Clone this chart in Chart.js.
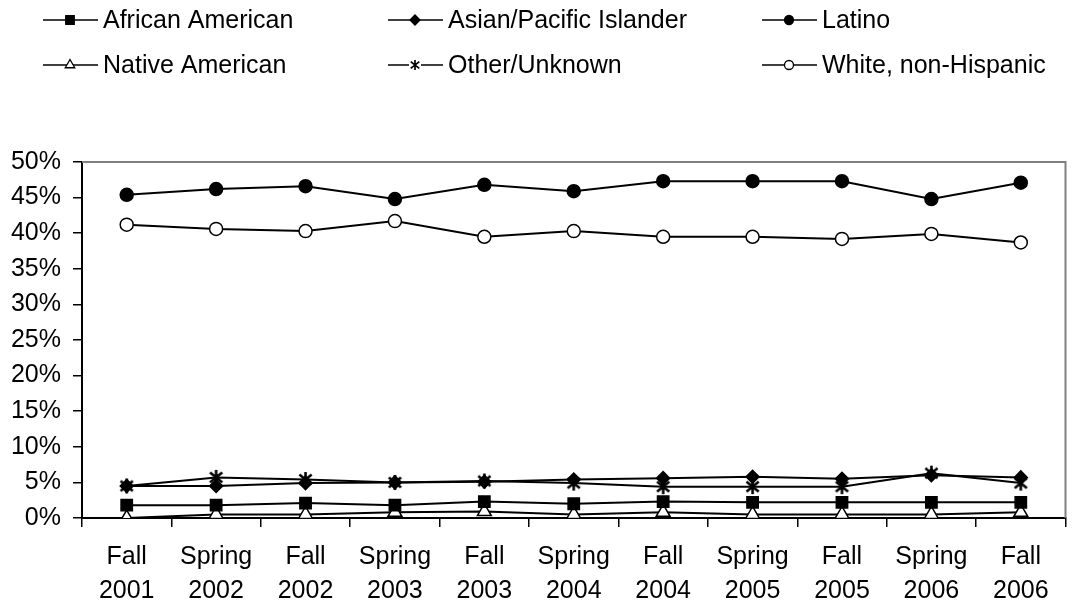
<!DOCTYPE html>
<html>
<head>
<meta charset="utf-8">
<script src="https://cdn.jsdelivr.net/npm/chart.js@4/dist/chart.umd.min.js"></script>
<style>
  html, body { margin: 0; padding: 0; background: #fff; }
  #wrap { width: 1075px; height: 603px; position: relative; }
</style>
</head>
<body>
<div id="wrap"><canvas id="c"></canvas></div>
<script>
// 학기별 인종 구성 비율 (%)
const terms = [
  ["Fall", "2001"], ["Spring", "2002"], ["Fall", "2002"], ["Spring", "2003"],
  ["Fall", "2003"], ["Spring", "2004"], ["Fall", "2004"], ["Spring", "2005"],
  ["Fall", "2005"], ["Spring", "2006"], ["Fall", "2006"],
];
const african  = [1.8, 1.8, 2.1, 1.8, 2.3, 2.0, 2.3, 2.2, 2.2, 2.2, 2.2];
const asian    = [4.5, 4.5, 4.9, 5.0, 5.1, 5.4, 5.6, 5.8, 5.5, 6.0, 5.7];
const latino   = [45.4, 46.2, 46.6, 44.8, 46.8, 45.9, 47.3, 47.3, 47.3, 44.8, 47.1];
const native   = [0.0, 0.5, 0.5, 0.8, 0.9, 0.5, 0.8, 0.5, 0.5, 0.5, 0.8];
const other    = [4.5, 5.7, 5.4, 5.0, 5.2, 4.9, 4.4, 4.4, 4.4, 6.3, 4.9];
const white    = [41.2, 40.6, 40.3, 41.7, 39.5, 40.3, 39.5, 39.5, 39.2, 39.9, 38.7];
const yTicks   = [0, 5, 10, 15, 20, 25, 30, 35, 40, 45, 50];

const FONT = "Liberation Sans, Arial, sans-serif";

// 별표 마커 (X + 세로선)
function makeStar(n, w) {
  const cv = document.createElement("canvas");
  cv.width = n; cv.height = n;
  const g = cv.getContext("2d");
  g.strokeStyle = "#000"; g.lineWidth = w;
  const m = n / 2, a = n * 0.36;
  g.beginPath();
  g.moveTo(m, 1); g.lineTo(m, n - 1);
  g.moveTo(m - a, m - a * 0.8); g.lineTo(m + a, m + a * 0.8);
  g.moveTo(m + a, m - a * 0.8); g.lineTo(m - a, m + a * 0.8);
  g.stroke();
  return cv;
}
const star = makeStar(17, 2.6);
const starSmall = makeStar(12, 1.7);

function ds(label, data, style, fill, radius, order) {
  return {
    label, data, order,
    borderColor: "#000", borderWidth: 2,
    pointStyle: style, pointRadius: radius,
    pointBackgroundColor: fill, pointBorderColor: "#000", pointBorderWidth: 1.5,
    tension: 0,
  };
}

const datasets = [
  ds("African American", african, "rect", "#000", 8, 3),
  ds("Asian/Pacific Islander", asian, "rectRot", "#000", 6.5, 2),
  ds("Latino", latino, "circle", "#000", 6.5, 5),
  ds("Native American", native, "triangle", "#fff", 8, 4),
  ds("Other/Unknown", other, star, "#000", 8, 1),
  ds("White, non-Hispanic", white, "circle", "#fff", 6.5, 6),
];
const legendRadius = [6, 5, 4.5, 5.5, 0, 4.5];

// 범례: 3열 2행
const legendPos = [[43, 20], [388, 20], [762, 20], [43, 65], [388, 65], [762, 65]];
const legendPlugin = {
  id: "legend3",
  afterDraw(chart) {
    const ctx = chart.ctx;
    ctx.save();
    datasets.forEach((d, i) => {
      const [x, y] = legendPos[i];
      ctx.strokeStyle = "#000"; ctx.lineWidth = 1.6;
      ctx.beginPath(); ctx.moveTo(x, y); ctx.lineTo(x + 55, y); ctx.stroke();
      ctx.fillStyle = d.pointBackgroundColor;
      ctx.lineWidth = 1.3;
      if (d.pointStyle === star) {
        ctx.fillStyle = "#fff";
        ctx.fillRect(x + 21, y - 6, 12, 12);
        ctx.drawImage(starSmall, x + 27 - 6, y - 6);
      } else {
        Chart.helpers.drawPoint(ctx, {
          pointStyle: d.pointStyle, radius: legendRadius[i], borderWidth: 1.3, rotation: 0,
        }, x + 27, y);
      }
      ctx.fillStyle = "#000";
      ctx.font = "25px " + FONT;
      ctx.textBaseline = "middle";
      ctx.fillText(d.label, x + 60, y + 1);
    });
    ctx.restore();
  },
};

// 플롯 영역 테두리 (위/오른쪽 회색)
const frame = {
  id: "frame",
  beforeDatasetsDraw(chart) {
    const { left, top, right, bottom } = chart.chartArea;
    const ctx = chart.ctx;
    ctx.save();
    ctx.strokeStyle = "#808080"; ctx.lineWidth = 2;
    ctx.beginPath();
    ctx.moveTo(left, top); ctx.lineTo(right, top); ctx.lineTo(right, bottom);
    ctx.stroke();
    ctx.restore();
  },
};

new Chart(document.getElementById("c"), {
  type: "line",
  data: { labels: terms, datasets },
  plugins: [frame, legendPlugin],
  options: {
    responsive: true,
    maintainAspectRatio: false,
    animation: false,
    layout: { padding: { top: 162, right: 6, left: 0, bottom: 0 } },
    plugins: { legend: { display: false }, tooltip: { enabled: false } },
    scales: {
      x: {
        offset: true,
        grid: { display: true, offset: true, drawOnChartArea: false, tickLength: 9, color: "#000", lineWidth: 1.5 },
        border: { color: "#000", width: 2 },
        ticks: {
          color: "#000", font: { family: FONT, size: 25, lineHeight: 1.35 },
          maxRotation: 0, autoSkip: false, padding: 13,
        },
        afterFit(s) { s.height = 85; },
      },
      y: {
        min: 0, max: 50,
        afterBuildTicks(s) { s.ticks = yTicks.map(v => ({ value: v })); },
        grid: { drawOnChartArea: false, tickLength: 9, color: "#000", lineWidth: 1.5 },
        border: { color: "#000", width: 2 },
        ticks: {
          color: "#000", font: { family: FONT, size: 25 }, padding: 12,
          callback: v => v + "%",
        },
        afterFit(s) { s.width = 82; },
      },
    },
  },
});
</script>
</body>
</html>
